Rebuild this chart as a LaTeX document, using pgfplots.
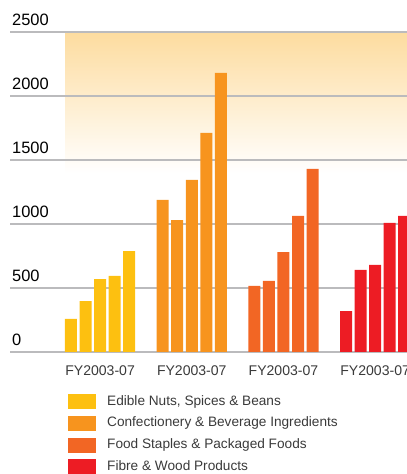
\documentclass[border=0pt]{standalone}
\usepackage{fontspec}
\setmainfont{Liberation Sans}
\usepackage{pgfplots}
\usepackage{pgfplotstable}
\pgfplotsset{compat=1.18}

\definecolor{nuts}{HTML}{FDC010}
\definecolor{confect}{HTML}{F7941E}
\definecolor{staples}{HTML}{F26624}
\definecolor{fibre}{HTML}{ED1C24}
\definecolor{gridgray}{HTML}{BBBBBD}
\definecolor{bandtop}{HTML}{FDDC9F}
\definecolor{labelgray}{HTML}{3A3A3A}

% Segment revenue, FY2003 to FY2007 (five bars per segment)
\pgfplotstableread{
x    y
0.0  258
1.0  398
2.0  570
3.0  594
4.0  789
}\nutsdata
\pgfplotstableread{
x    y
6.3  1188
7.3  1031
8.3  1344
9.3  1711
10.3 2180
}\confectdata
\pgfplotstableread{
x    y
12.6 516
13.6 555
14.6 781
15.6 1063
16.6 1430
}\staplesdata
\pgfplotstableread{
x    y
18.9 320
19.9 641
20.9 680
21.9 1008
22.9 1063
}\fibredata

\pgfplotsset{
  sq legend/.style={legend image code/.code={\fill[##1] (0bp,-7.5bp) rectangle (28bp,7.5bp);}},
  segbar/.style={ybar, bar width=12bp, bar shift=0pt, draw=none, fill=#1, sq legend},
}

\begin{document}
\begin{tikzpicture}
\begin{axis}[
  set layers,
  at={(10bp,122bp)}, anchor=south west,
  scale only axis, width=397bp, height=320bp,
  xmin=-4.19, xmax=23.09,
  ymin=0, ymax=2500,
  axis line style={draw=none},
  major tick length=0pt,
  ytick={0,500,...,2500},
  ymajorgrids,
  grid style={line width=1.2bp, color=gridgray},
  /pgf/number format/assume math mode=true,
  /pgf/number format/1000 sep={},
  yticklabel style={font=\fontsize{16.5}{18}\selectfont, anchor=base west,
    inner sep=0pt, xshift=2bp, yshift=6bp, text=black},
  xtick={2,8.3,14.6,20.9},
  xticklabels={FY2003-07,FY2003-07,FY2003-07,FY2003-07},
  xticklabel style={font=\fontsize{14.1}{16}\selectfont, text=labelgray,
    anchor=base, inner sep=0pt, yshift=-24bp},
  legend style={at={(0.146,-0.131)}, anchor=north west, draw=none, fill=none,
    inner sep=0pt, row sep=6.7bp, column sep=11bp,
    font=\fontsize{13.7}{16}\selectfont, text=labelgray,
    nodes={inner sep=0pt, text height=10bp, text depth=3bp}},
  legend cell align=left,
]
\begin{pgfonlayer}{axis background}
  \fill[top color=bandtop, bottom color=white]
    (axis cs:-0.41,1398) rectangle (axis cs:23.09,2500);
\end{pgfonlayer}
\addplot[segbar=nuts]    table {\nutsdata};
\addplot[segbar=confect] table {\confectdata};
\addplot[segbar=staples] table {\staplesdata};
\addplot[segbar=fibre]   table {\fibredata};
\legend{Edible Nuts{,} Spices \& Beans, Confectionery \& Beverage Ingredients,
  Food Staples \& Packaged Foods, Fibre \& Wood Products}
\end{axis}
\pgfresetboundingbox
\path (0,0) rectangle (407bp,474bp);
\end{tikzpicture}
\end{document}
